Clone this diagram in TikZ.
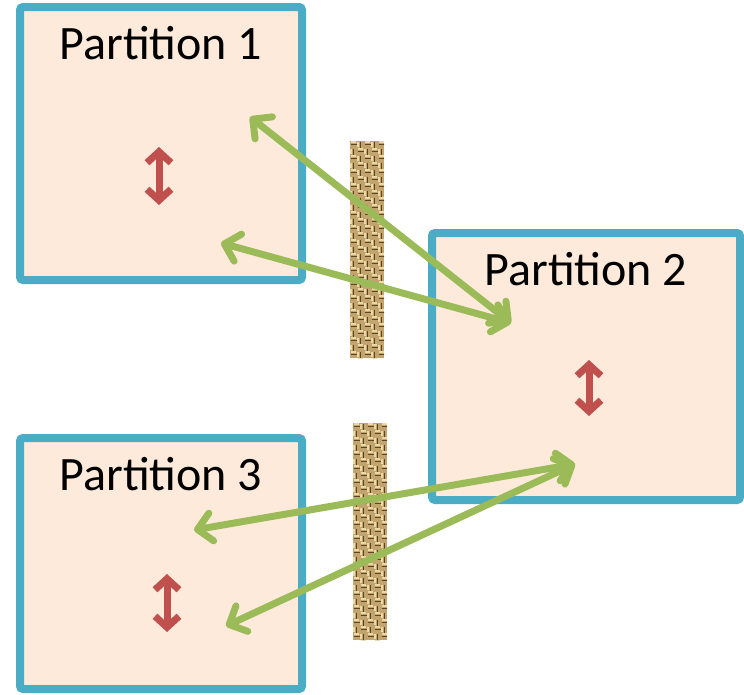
\documentclass[tikz,border=0pt]{standalone}
\usepackage{fontspec}
\setmainfont{Carlito}
\usetikzlibrary{arrows.meta,positioning}

\definecolor{boxline}{HTML}{4BACC6}
\definecolor{boxfill}{HTML}{FDEADA}
\definecolor{msggreen}{HTML}{9BBB59}
\definecolor{localred}{HTML}{C0504D}
\definecolor{jute}{HTML}{C2A46E}
\definecolor{jutedark}{HTML}{5E4420}
\definecolor{jutelight}{HTML}{ECDAA6}

\tikzset{
  partition/.style={draw=boxline, line width=8pt, fill=boxfill,
    rounded corners=3pt, inner sep=0pt},
  ptitle/.style={font=\fontsize{48}{57}\selectfont, inner sep=0pt},
  message/.style={draw=msggreen, line width=7pt, line cap=round,
    {Straight Barb[length=14pt,width=28pt,line cap=round,line join=round]}-{Straight Barb[length=14pt,width=28pt,line cap=round,line join=round]}},
  local/.style={draw=localred, line width=7pt,
    {Straight Barb[length=11pt,width=24pt,line join=miter]}-{Straight Barb[length=11pt,width=24pt,line join=miter]}}
}

\begin{document}
\begin{tikzpicture}[x=1pt,y=-1pt]
  \useasboundingbox (0,0) rectangle (744,694);

  % the three partitions
  \node[partition, minimum width=282pt, minimum height=273pt] (p1) at (161,143.5) {};
  \node[partition, minimum width=308pt, minimum height=267pt] (p2) at (586,366.5) {};
  \node[partition, minimum width=282pt, minimum height=251pt] (p3) at (161,563.5) {};

  \node[ptitle, below=23pt of p1.north] (t1) {Partition 1};
  \node[ptitle, below=23pt of p2.north] (t2) {Partition 2};
  \node[ptitle, below=23pt of p3.north] (t3) {Partition 3};

  % woven walls between partitions
  \foreach \bx/\by in {350/141, 353/423} {
    \begin{scope}
      \clip (\bx,\by) rectangle ++(34,217);
      \fill[jute] (\bx,\by) rectangle ++(34,217);
      \foreach \i in {0,...,4}
        \foreach \j in {0,...,31} {
          \pgfmathtruncatemacro\weave{mod(\i+\j,2)}
          \ifnum\weave=0
            \draw[jutedark, line width=1.8pt] (\bx+7*\i+0.5,\by+7*\j+3.5) -- ++(6,0);
            \draw[jutelight, line width=1.2pt] (\bx+7*\i+1,\by+7*\j+1) -- ++(5,0);
          \else
            \draw[jutedark, line width=1.8pt] (\bx+7*\i+3.5,\by+7*\j+0.5) -- ++(0,6);
            \draw[jutelight, line width=1.2pt] (\bx+7*\i+1,\by+7*\j+1) -- ++(0,5);
          \fi
        }
    \end{scope}
  }

  % end points of the messages
  \coordinate (m1a) at (250,117);
  \coordinate (m1b) at (221,243);
  \coordinate (m2a) at (511,323);
  \coordinate (m2b) at (575,464);
  \coordinate (m3a) at (194,530);
  \coordinate (m3b) at (226,626);

  \draw[message] (m1a) -- (m2a);
  \draw[message] (m1b) -- (m2a);
  \draw[message] (m3a) -- (m2b);
  \draw[message] (m3b) -- (m2b);

  % local traffic
  \coordinate (l1a) at (159,147);
  \coordinate (l1b) at (159,205);
  \coordinate (l2a) at (589,360);
  \coordinate (l2b) at (589,416);
  \coordinate (l3a) at (167,574);
  \coordinate (l3b) at (167,632);

  \draw[local] (l1a) -- (l1b);
  \draw[local] (l2a) -- (l2b);
  \draw[local] (l3a) -- (l3b);
\end{tikzpicture}
\end{document}
